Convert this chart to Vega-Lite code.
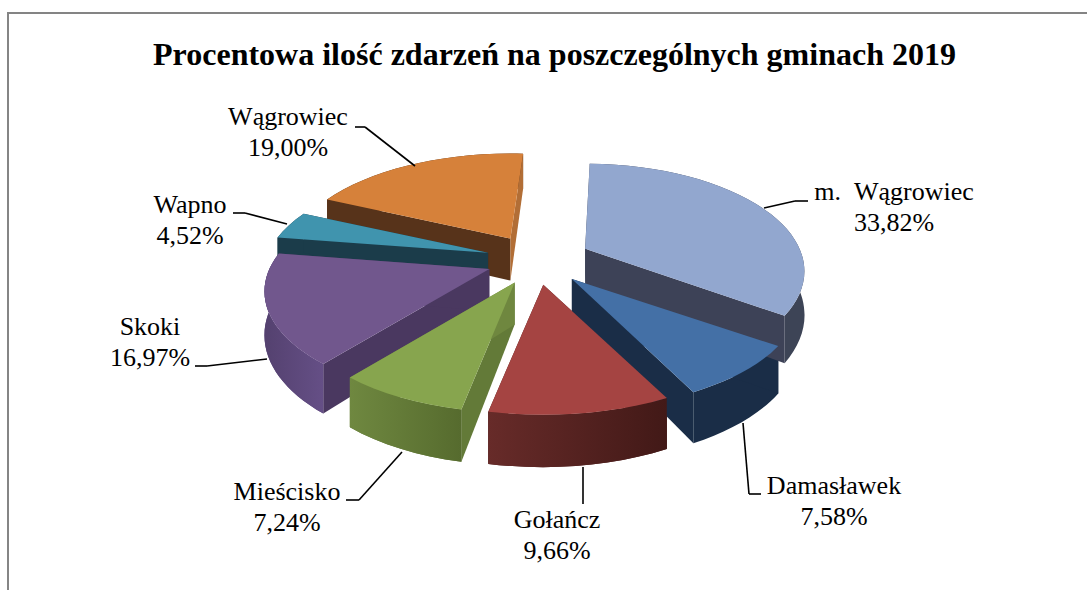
{
"$schema":"https://vega.github.io/schema/vega-lite/v6.json",
"width":1087,"height":590,"padding":0,"autosize":{"type":"none"},"background":"white",
"config":{"view":{"stroke":null}},
"title":{"text":"Procentowa ilość zdarzeń na poszczególnych gminach 2019","font":"Liberation Serif","fontSize":32,"fontWeight":"bold","color":"#000000","anchor":"middle","frame":"group","orient":"top","offset":-87,"dx":11,"baseline":"middle"},
"data":{"values":[
{"name":"m.  Wągrowiec","value":33.82,"pct":"33,82%"},
{"name":"Damasławek","value":7.58,"pct":"7,58%"},
{"name":"Gołańcz","value":9.66,"pct":"9,66%"},
{"name":"Mieścisko","value":7.24,"pct":"7,24%"},
{"name":"Skoki","value":16.97,"pct":"16,97%"},
{"name":"Wapno","value":4.52,"pct":"4,52%"},
{"name":"Wągrowiec","value":19.0,"pct":"19,00%"}
]},
"transform":[
{"window":[{"op":"sum","field":"value","as":"cum"}],"frame":[null,0]},
{"joinaggregate":[{"op":"sum","field":"value","as":"total"}]},
{"calculate":"(datum.cum-datum.value)/datum.total*360","as":"b0"},
{"calculate":"datum.cum/datum.total*360","as":"b1"},
{"calculate":"(datum.b0+1.5+5.5*exp(-pow((datum.b0-225)/60,2))+2.5*pow(datum.b0/360,8))*PI/180","as":"a0"},
{"calculate":"(datum.b1+1.5+5.5*exp(-pow((datum.b1-225)/60,2))+2.5*pow(datum.b1/360,8))*PI/180","as":"a1"},
{"calculate":"(datum.a0+datum.a1)/2","as":"mid"},
{"calculate":"4+(sin(datum.mid)<0?50:55)*sin(datum.mid)","as":"tx"},
{"calculate":"-1-25*cos(datum.mid)","as":"ty"},
{"calculate":"-cos(datum.mid)","as":"depthOrder"},
{"calculate":"round(10*(222-3*sin(datum.mid)+(datum.mid<PI?9*max(0,-cos(datum.mid)):0)))/10","as":"rx"},
{"calculate":"datum.rx/1.0226","as":"R"},
{"calculate":"round(10*datum.R*sin(datum.a0)/(1+0.209*cos(datum.a0)))/10","as":"p0x"},
{"calculate":"round(-1028*cos(datum.a0)/(1+0.209*cos(datum.a0)))/10","as":"p0y"},
{"calculate":"round(10*datum.R*sin(datum.a1)/(1+0.209*cos(datum.a1)))/10","as":"p1x"},
{"calculate":"round(-1028*cos(datum.a1)/(1+0.209*cos(datum.a1)))/10","as":"p1y"},
{"calculate":"round(420+10.8*datum.p0y)/10","as":"q0y"},
{"calculate":"round(420+10.8*datum.p1y)/10","as":"q1y"},
{"calculate":"'M0 0L'+datum.p0x+' '+datum.p0y+'A'+datum.rx+' 107.5 0 0 1 '+datum.p1x+' '+datum.p1y+'Z'","as":"topShape"},
{"calculate":"'M'+datum.p0x+' '+datum.p0y+'A'+datum.rx+' 107.5 0 0 1 '+datum.p1x+' '+datum.p1y+'L'+datum.p1x+' '+datum.q1y+'A'+datum.rx+' 116 0 0 0 '+datum.p0x+' '+datum.q0y+'Z'","as":"outerShape"},
{"calculate":"'M0 0L'+datum.p0x+' '+datum.p0y+'L'+datum.p0x+' '+datum.q0y+'L0 42Z'","as":"startShape"},
{"calculate":"'M0 0L'+datum.p1x+' '+datum.p1y+'L'+datum.p1x+' '+datum.q1y+'L0 42Z'","as":"endShape"},
{"calculate":"{'m.  Wągrowiec':[362,-53],'Damasławek':[302,241],'Gołańcz':[25,275],'Mieścisko':[-245,247],'Skoki':[-382,82],'Wapno':[-342,-40],'Wągrowiec':[-244,-128]}[datum.name]","as":"lab"},
{"calculate":"{'m.  Wągrowiec':[276,-60,263,-60,232,-53],'Damasławek':[229,233,217,233,211,162],'Gołańcz':[51,206,51,243,51,243],'Mieścisko':[-186,239,-173,239,-130,191],'Skoki':[-337,105,-325,105,-265,98],'Wapno':[-299,-48,-287,-48,-245,-37],'Wągrowiec':[-177,-134,-167,-134,-117,-95]}[datum.name]","as":"lead"},
{"calculate":"datum.lab[0]","as":"lx"},{"calculate":"datum.lab[1]-16","as":"ly"},
{"calculate":"datum.lead[0]","as":"l0x"},{"calculate":"datum.lead[1]","as":"l0y"},
{"calculate":"datum.lead[2]","as":"l1x"},{"calculate":"datum.lead[3]","as":"l1y"},
{"calculate":"datum.lead[4]","as":"l2x"},{"calculate":"datum.lead[5]","as":"l2y"},
{"calculate":"replace(datum.name,'  ','\u00a0\u00a0')+'\\n'+datum.pct","as":"label"}
],
"encoding":{
"x":{"field":"tx","type":"quantitative","axis":null,"scale":{"domain":[-532,555],"nice":false,"zero":false}},
"y":{"field":"ty","type":"quantitative","axis":null,"scale":{"domain":[-261,329],"nice":false,"zero":false,"reverse":true}}
},
"resolve":{"scale":{"color":"independent"}},
"layer":[
{"mark":{"type":"point","filled":true,"opacity":1,"size":4,"strokeWidth":0},
 "encoding":{"shape":{"field":"outerShape","type":"nominal","scale":null,"legend":null},
 "order":{"field":"depthOrder","type":"quantitative"},
 "color":{"field":"name","type":"nominal","legend":null,"scale":{"domain":["m.  Wągrowiec","Damasławek","Gołańcz","Mieścisko","Skoki","Wapno","Wągrowiec"],"range":["#3D4456","#1A2D47","#50211F","#637A38","#5F4A80","#1B3C4A","#57331A"]}}}},
{"mark":{"type":"point","filled":true,"opacity":1,"size":4,"strokeWidth":0},
 "encoding":{"shape":{"field":"startShape","type":"nominal","scale":null,"legend":null},
 "order":{"field":"depthOrder","type":"quantitative"},
 "color":{"field":"name","type":"nominal","legend":null,"scale":{"domain":["m.  Wągrowiec","Damasławek","Gołańcz","Mieścisko","Skoki","Wapno","Wągrowiec"],"range":["#3D4456","#1A2D47","#50211F","#637A38","#4A3860","#1B3C4A","#57331A"]}}}},
{"mark":{"type":"point","filled":true,"opacity":1,"size":4,"strokeWidth":0},
 "encoding":{"shape":{"field":"endShape","type":"nominal","scale":null,"legend":null},
 "order":{"field":"depthOrder","type":"quantitative"},
 "color":{"field":"name","type":"nominal","legend":null,"scale":{"domain":["m.  Wągrowiec","Damasławek","Gołańcz","Mieścisko","Skoki","Wapno","Wągrowiec"],"range":["#3D4257","#1A2D47","#50211F","#6F873F","#4A3860","#1B3C4A","#B26E36"]}}}},
{"transform":[{"filter":"datum.name=='Skoki'"}],
 "mark":{"type":"point","filled":true,"opacity":1,"size":4,"strokeWidth":0,"fill":{"gradient":"linear","x1":0,"x2":1,"y1":0,"y2":0,"stops":[{"offset":0,"color":"#54416F"},{"offset":1,"color":"#654F86"}]}},
 "encoding":{"shape":{"field":"outerShape","type":"nominal","scale":null,"legend":null}}},
{"transform":[{"filter":"datum.name=='Mieścisko'"}],
 "mark":{"type":"point","filled":true,"opacity":1,"size":4,"strokeWidth":0,"fill":{"gradient":"linear","x1":0,"x2":1,"y1":0,"y2":0,"stops":[{"offset":0,"color":"#6F8840"},{"offset":1,"color":"#566B2E"}]}},
 "encoding":{"shape":{"field":"outerShape","type":"nominal","scale":null,"legend":null}}},
{"transform":[{"filter":"datum.name=='Gołańcz'"}],
 "mark":{"type":"point","filled":true,"opacity":1,"size":4,"strokeWidth":0,"fill":{"gradient":"linear","x1":0,"x2":1,"y1":0,"y2":0,"stops":[{"offset":0,"color":"#672B29"},{"offset":1,"color":"#421917"}]}},
 "encoding":{"shape":{"field":"outerShape","type":"nominal","scale":null,"legend":null}}},
{"mark":{"type":"point","filled":true,"opacity":1,"size":4,"strokeWidth":0},
 "encoding":{"shape":{"field":"topShape","type":"nominal","scale":null,"legend":null},
 "order":{"field":"depthOrder","type":"quantitative"},
 "color":{"field":"name","type":"nominal","legend":null,"scale":{"domain":["m.  Wągrowiec","Damasławek","Gołańcz","Mieścisko","Skoki","Wapno","Wągrowiec"],"range":["#92A7CF","#4470A6","#A54442","#87A54E","#71578D","#4094AE","#D6813A"]}}}},
{"mark":{"type":"rule","color":"#000000","strokeWidth":1.6},
 "encoding":{"x":{"field":"l0x","type":"quantitative"},"y":{"field":"l0y","type":"quantitative"},"x2":{"field":"l1x"},"y2":{"field":"l1y"}}},
{"mark":{"type":"rule","color":"#000000","strokeWidth":1.6},
 "encoding":{"x":{"field":"l1x","type":"quantitative"},"y":{"field":"l1y","type":"quantitative"},"x2":{"field":"l2x"},"y2":{"field":"l2y"}}},
{"mark":{"type":"text","font":"Liberation Serif","fontSize":26,"color":"#000000","align":"center","baseline":"middle","lineBreak":"\n","lineHeight":30.5},
 "encoding":{"x":{"field":"lx","type":"quantitative"},"y":{"field":"ly","type":"quantitative"},"text":{"field":"label","type":"nominal"}}},
{"mark":{"type":"rule","color":"#858585","strokeWidth":2},
 "encoding":{"x":{"datum":-524},"y":{"datum":-248},"y2":{"datum":329}}},
{"mark":{"type":"rule","color":"#858585","strokeWidth":1.5},
 "encoding":{"x":{"datum":-525},"x2":{"datum":555},"y":{"datum":-248}}}
]
}
